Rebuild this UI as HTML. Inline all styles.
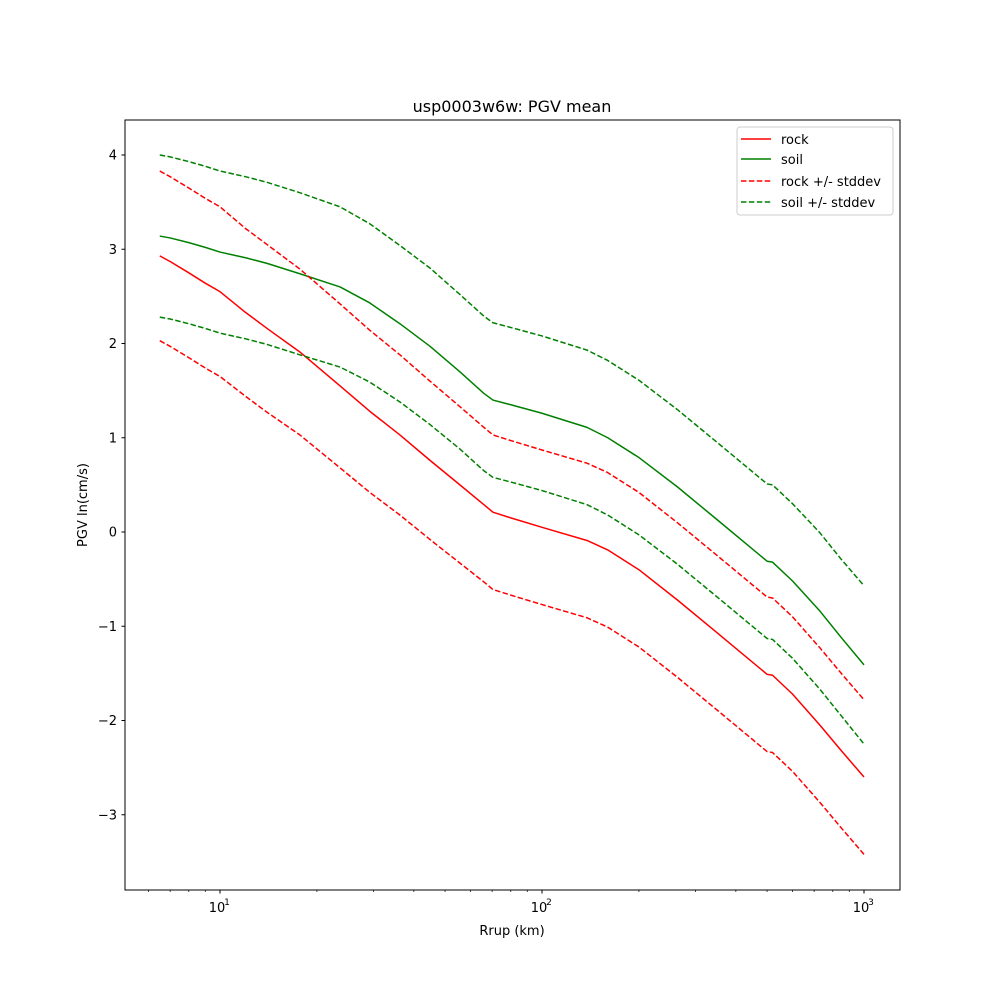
<!DOCTYPE html>
<html><head><meta charset="utf-8"><style>
body{margin:0;background:#fff}
text{font-family:"DejaVu Sans","Liberation Sans",sans-serif;fill:#000}
</style></head><body>
<svg id="chart" width="1000" height="1000" xmlns="http://www.w3.org/2000/svg">
<rect width="1000" height="1000" fill="#fff"/>
<text x="512" y="112" font-size="16" text-anchor="middle">usp0003w6w: PGV mean</text>
<g id="series"></g>
<g id="axes"></g>
<rect x="125" y="120" width="775" height="770" fill="none" stroke="#000" stroke-width="1"/>
<text x="512" y="935" font-size="13" text-anchor="middle">Rrup (km)</text>
<text x="87" y="505" font-size="13" text-anchor="middle" transform="rotate(-90 87 505)">PGV ln(cm/s)</text>
<g>
<rect x="737" y="127" width="156" height="88" rx="3" fill="#fff" stroke="#ccc"/>
<line x1="741" y1="139" x2="771" y2="139" stroke="red" stroke-width="1.5"/>
<text x="781" y="144" font-size="13">rock</text>
<line x1="741" y1="159" x2="771" y2="159" stroke="green" stroke-width="1.5"/>
<text x="781" y="164" font-size="13">soil</text>
<line x1="741" y1="181" x2="771" y2="181" stroke="red" stroke-width="1.5" stroke-dasharray="5.5,2.4"/>
<text x="781" y="186" font-size="13">rock +/- stddev</text>
<line x1="741" y1="202" x2="771" y2="202" stroke="green" stroke-width="1.5" stroke-dasharray="5.5,2.4"/>
<text x="781" y="207" font-size="13">soil +/- stddev</text>
</g>
</svg>
<script>
const distances = [6.5,7,8,9,10,12,14,17.7,23.6,29.2,36.2,44.9,55.6,66,70.4,80,100,138,160,200,263,350,500,520,600,730,850,1000];
const rockMean = [2.93,2.87,2.75,2.64,2.55,2.33,2.16,1.91,1.55,1.28,1.03,0.76,0.50,0.29,0.21,0.15,0.05,-0.09,-0.19,-0.40,-0.72,-1.07,-1.51,-1.52,-1.72,-2.05,-2.32,-2.6];
const soilMean = [3.14,3.12,3.07,3.02,2.97,2.91,2.85,2.74,2.60,2.43,2.21,1.97,1.70,1.47,1.40,1.35,1.26,1.11,1.00,0.79,0.48,0.13,-0.31,-0.32,-0.52,-0.84,-1.12,-1.41];
const rockSigma = [0.9,0.9,0.9,0.9,0.9,0.89,0.89,0.88,0.87,0.86,0.85,0.84,0.83,0.82,0.82,0.82,0.82,0.82,0.82,0.82,0.82,0.82,0.82,0.82,0.82,0.82,0.82,0.82];
const soilSigma = [0.86,0.86,0.86,0.86,0.86,0.86,0.86,0.86,0.85,0.84,0.83,0.83,0.82,0.82,0.82,0.82,0.82,0.82,0.82,0.82,0.82,0.82,0.82,0.82,0.82,0.83,0.83,0.84];
const yTicks = [-3,-2,-1,0,1,2,3,4];
const xMajor = [10,100,1000];

const NS="http://www.w3.org/2000/svg";
function xs(d){return 220+(Math.log10(d)-1)*322;}
function ys(v){return 532-v*94.25;}
const sg=document.getElementById('series'), ax=document.getElementById('axes');
function mk(tag,attrs,parent){const e=document.createElementNS(NS,tag);for(const k in attrs)e.setAttribute(k,attrs[k]);parent.appendChild(e);return e;}
function line(vals,color,dash,name){
  const d=vals.map((v,i)=>(i?'L':'M')+xs(distances[i]).toFixed(2)+','+ys(v).toFixed(2)).join(' ');
  const p=mk('path',{d:d,fill:'none',stroke:color,'stroke-width':1.5,'stroke-linejoin':'round'},sg);
  if(dash)p.setAttribute('stroke-dasharray','5.5,2.4');
  
  
}
line(rockMean,'red',false,'rock-mean-line');
line(soilMean,'green',false,'soil-mean-line');
line(rockMean.map((m,i)=>m+rockSigma[i]),'red',true,'rock-upper-stddev-line');
line(rockMean.map((m,i)=>m-rockSigma[i]),'red',true,'rock-lower-stddev-line');
line(soilMean.map((m,i)=>m+soilSigma[i]),'green',true,'soil-upper-stddev-line');
line(soilMean.map((m,i)=>m-soilSigma[i]),'green',true,'soil-lower-stddev-line');

yTicks.forEach(t=>{
  const y=ys(t);
  const l=mk('line',{x1:121.5,x2:125,y1:y,y2:y,stroke:'#000'},ax);
  
  
  const tx=mk('text',{x:117,y:y+4.5,'font-size':13,'text-anchor':'end'},ax);
  tx.textContent=(t<0?'\u2212'+(-t):String(t));
  
  
});
xMajor.forEach(d=>{
  const x=xs(d);
  const l=mk('line',{x1:x,x2:x,y1:890,y2:893.5,stroke:'#000'},ax);
  
  
  const tx=mk('text',{x:x-3,y:912,'font-size':13,'text-anchor':'middle'},ax);
  tx.textContent='10';
  
  
  const sup=mk('text',{x:x+7,y:905,'font-size':9,'text-anchor':'middle'},ax);
  sup.textContent=String(Math.round(Math.log10(d)));
  
  
});
[6,7,8,9,20,30,40,50,60,70,80,90,200,300,400,500,600,700,800,900].forEach(d=>{
  const x=xs(d);
  const l=mk('line',{x1:x,x2:x,y1:890,y2:892,stroke:'#000','stroke-width':0.7},ax);
  
  
});
</script>
</body></html>
